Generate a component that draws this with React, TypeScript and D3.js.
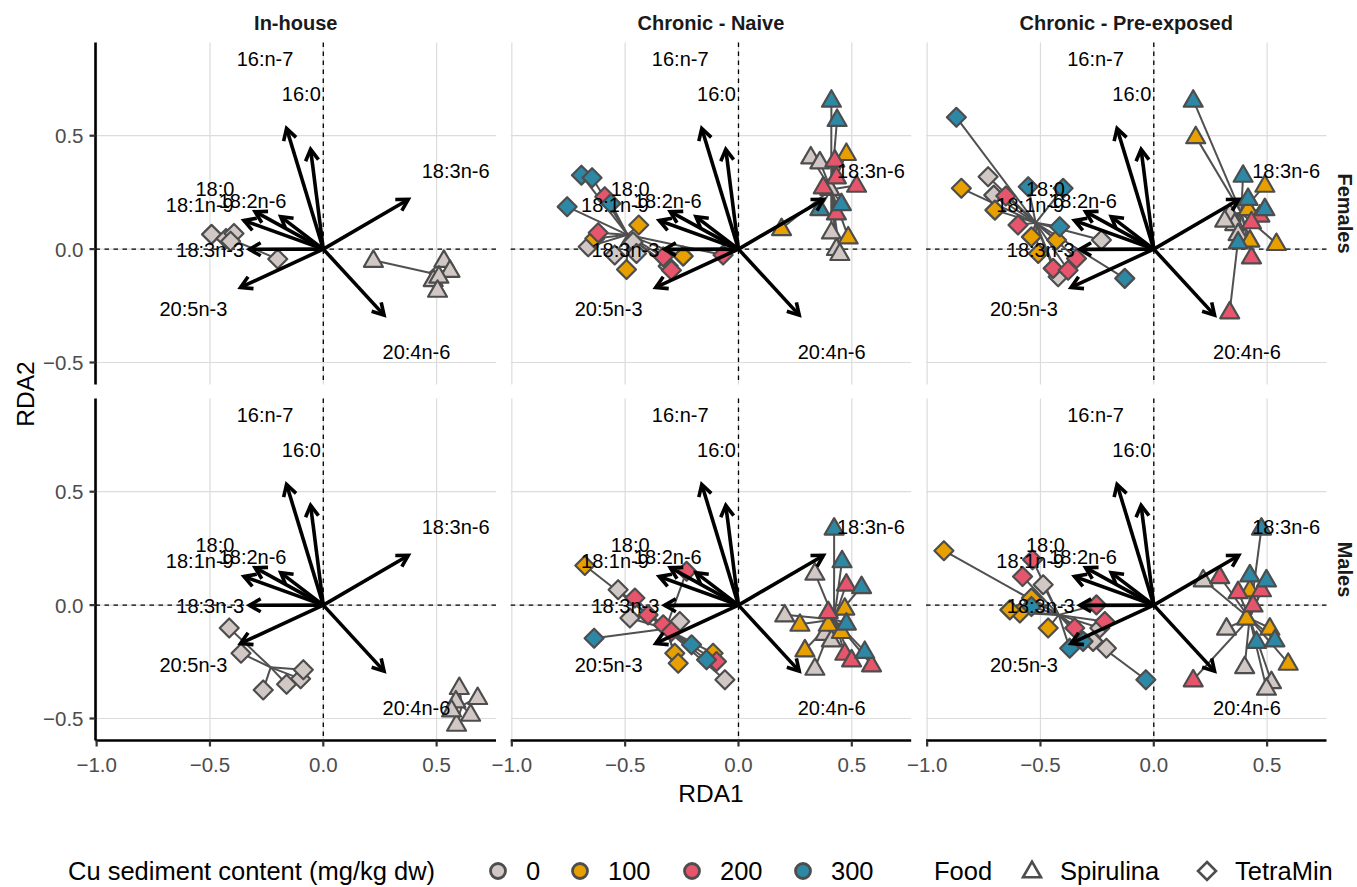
import React, { useEffect, useRef } from 'react';
import * as d3 from 'd3';

const facetCols = ['In-house', 'Chronic - Naive', 'Chronic - Pre-exposed'];
const facetRows = ['Females', 'Males'];
const cuLevels = ['0', '100', '200', '300'];
const cuColors = ['#D1C8C6', '#E8A000', '#E6556B', '#2C88A4'];
const foods = ['Spirulina', 'TetraMin'];

const xTicks = [-1.0, -0.5, 0.0, 0.5];
const yTicks = [-0.5, 0.0, 0.5];

const acids = ['16:n-7', '16:0', '18:3n-6', '20:4n-6', '20:5n-3', '18:3n-3', '18:1n-9', '18:0', '18:2n-6'];
const arrowX = [-0.162, -0.056, 0.375, 0.268, -0.365, -0.326, -0.350, -0.301, -0.188];
const arrowY = [0.532, 0.440, 0.219, -0.291, -0.169, -0.001, 0.126, 0.165, 0.143];
const labelX = [-0.257, -0.097, 0.584, 0.411, -0.573, -0.499, -0.545, -0.478, -0.312];
const labelY = [0.840, 0.686, 0.343, -0.454, -0.265, -0.005, 0.195, 0.265, 0.212];

// rows: [cu level index, food index (0 Spirulina, 1 TetraMin), RDA1, RDA2]
const femInhouse = [
  [0, 1, -0.493, 0.065], [0, 1, -0.429, 0.047], [0, 1, -0.394, 0.069], [0, 1, -0.409, 0.035], [0, 1, -0.201, -0.044],
  [0, 0, 0.221, -0.049], [0, 0, 0.532, -0.049], [0, 0, 0.559, -0.093], [0, 0, 0.485, -0.134], [0, 0, 0.510, -0.119], [0, 0, 0.504, -0.181],
];

const femNaive = [
  [0, 1, -0.663, 0.010], [0, 1, -0.546, -0.026], [0, 1, -0.465, 0.032], [0, 1, -0.310, -0.075], [0, 1, -0.450, -0.019],
  [1, 1, -0.440, 0.106], [1, 1, -0.634, 0.047], [1, 1, -0.494, -0.090], [1, 1, -0.244, -0.031],
  [2, 1, -0.590, 0.231], [2, 1, -0.619, 0.072], [2, 1, -0.332, -0.034], [2, 1, -0.296, -0.093], [2, 1, -0.068, -0.026],
  [3, 1, -0.693, 0.326], [3, 1, -0.646, 0.315], [3, 1, -0.756, 0.187], [3, 1, -0.563, 0.201],
  [0, 0, 0.319, 0.407], [0, 0, 0.359, 0.385], [0, 0, 0.403, 0.268], [0, 0, 0.410, 0.076], [0, 0, 0.432, 0.003], [0, 0, 0.447, -0.019],
  [1, 0, 0.476, 0.422], [1, 0, 0.190, 0.091], [1, 0, 0.484, 0.054],
  [2, 0, 0.425, 0.393], [2, 0, 0.432, 0.319], [2, 0, 0.521, 0.282], [2, 0, 0.374, 0.275], [2, 0, 0.432, 0.160],
  [3, 0, 0.410, 0.657], [3, 0, 0.435, 0.572], [3, 0, 0.359, 0.179], [3, 0, 0.454, 0.201],
];

const femPre = [
  [0, 1, -0.731, 0.319], [0, 1, -0.706, 0.238], [0, 1, -0.231, 0.040], [0, 1, -0.422, -0.122],
  [1, 1, -0.849, 0.268], [1, 1, -0.701, 0.172], [1, 1, -0.540, 0.054], [1, 1, -0.429, 0.040], [1, 1, -0.510, -0.019],
  [2, 1, -0.653, 0.234], [2, 1, -0.599, 0.106], [2, 1, -0.444, -0.085], [2, 1, -0.378, -0.093], [2, 1, -0.341, -0.041],
  [3, 1, -0.871, 0.581], [3, 1, -0.554, 0.275], [3, 1, -0.400, 0.268], [3, 1, -0.415, 0.099], [3, 1, -0.128, -0.129],
  [0, 0, 0.335, 0.157], [0, 0, 0.357, 0.113], [0, 0, 0.372, 0.069], [0, 0, 0.313, 0.128],
  [1, 0, 0.185, 0.496], [1, 0, 0.490, 0.282], [1, 0, 0.416, 0.179], [1, 0, 0.424, 0.040], [1, 0, 0.541, 0.025],
  [2, 0, 0.335, -0.276], [2, 0, 0.431, -0.034], [2, 0, 0.468, 0.150], [2, 0, 0.431, 0.121],
  [3, 0, 0.174, 0.657], [3, 0, 0.394, 0.326], [3, 0, 0.416, 0.224], [3, 0, 0.490, 0.179], [3, 0, 0.372, 0.032],
];

const maleInhouse = [
  [0, 1, -0.415, -0.101], [0, 1, -0.363, -0.212], [0, 1, -0.265, -0.374], [0, 1, -0.162, -0.349], [0, 1, -0.100, -0.325], [0, 1, -0.088, -0.285],
  [0, 0, 0.600, -0.363], [0, 0, 0.585, -0.422], [0, 0, 0.681, -0.407], [0, 0, 0.650, -0.481], [0, 0, 0.588, -0.525], [0, 0, 0.566, -0.462],
];

const maleNaive = [
  [0, 1, -0.531, 0.068], [0, 1, -0.479, -0.057], [0, 1, -0.259, -0.072], [0, 1, -0.060, -0.329],
  [1, 1, -0.678, 0.175], [1, 1, -0.281, -0.212], [1, 1, -0.266, -0.256], [1, 1, -0.112, -0.212],
  [2, 1, -0.457, 0.031], [2, 1, -0.399, -0.043], [2, 1, -0.332, -0.087], [2, 1, -0.229, 0.149], [2, 1, -0.296, -0.116], [2, 1, -0.097, -0.249],
  [3, 1, -0.637, -0.146], [3, 1, -0.207, -0.175], [3, 1, -0.141, -0.241],
  [0, 0, 0.337, 0.141], [0, 0, 0.204, -0.043], [0, 0, 0.381, -0.124], [0, 0, 0.337, -0.278], [0, 0, 0.410, -0.153],
  [1, 0, 0.469, -0.013], [1, 0, 0.271, -0.084], [1, 0, 0.396, -0.084], [1, 0, 0.454, -0.116], [1, 0, 0.293, -0.197],
  [2, 0, 0.476, 0.093], [2, 0, 0.396, -0.028], [2, 0, 0.469, -0.212], [2, 0, 0.499, -0.241], [2, 0, 0.587, -0.263],
  [3, 0, 0.422, 0.340], [3, 0, 0.457, 0.196], [3, 0, 0.543, 0.082], [3, 0, 0.476, -0.079], [3, 0, 0.557, -0.204],
];

const malePre = [
  [0, 1, -0.488, 0.090], [0, 1, -0.268, -0.160], [0, 1, -0.209, -0.190], [0, 1, -0.238, -0.101],
  [1, 1, -0.926, 0.240], [1, 1, -0.540, 0.031], [1, 1, -0.591, -0.035], [1, 1, -0.466, -0.101], [1, 1, -0.635, -0.021],
  [2, 1, -0.535, 0.200], [2, 1, -0.579, 0.126], [2, 1, -0.349, -0.101], [2, 1, -0.216, -0.072], [2, 1, -0.253, 0.001],
  [3, 1, -0.540, -0.006], [3, 1, -0.371, -0.190], [3, 1, -0.312, -0.160], [3, 1, -0.035, -0.329],
  [0, 0, 0.218, 0.112], [0, 0, 0.321, -0.101], [0, 0, 0.401, -0.271], [0, 0, 0.519, -0.337], [0, 0, 0.497, -0.366],
  [1, 0, 0.424, 0.068], [1, 0, 0.409, -0.057], [1, 0, 0.512, -0.101], [1, 0, 0.593, -0.256],
  [2, 0, 0.291, 0.126], [2, 0, 0.372, 0.060], [2, 0, 0.475, 0.068], [2, 0, 0.438, 0.001], [2, 0, 0.174, -0.329],
  [3, 0, 0.475, 0.340], [3, 0, 0.424, 0.134], [3, 0, 0.497, 0.112], [3, 0, 0.453, -0.160], [3, 0, 0.534, -0.153],
];

const panelData = [
  [femInhouse, femNaive, femPre],
  [maleInhouse, maleNaive, malePre],
];

const W = 1357;
const H = 887;
const FONT = '"Liberation Sans", Arial, Helvetica, sans-serif';
const panelLeft = [95.5, 510.7, 926];
const panelTop = [42.5, 398.5];
const panelW = 400.5;
const panelH = 342;

const triPath = (s: number) => {
  const h = s * 0.866;
  return `M0,${-h * 0.6}L${s / 2},${h * 0.4}L${-s / 2},${h * 0.4}Z`;
};
const diaPath = (r: number) => `M0,${-r}L${r},0L0,${r}L${-r},0Z`;

export default function App() {
  const ref = useRef<SVGSVGElement>(null);

  useEffect(() => {
    const svg = d3.select(ref.current);
    svg.selectAll('*').remove();

    const x = d3.scaleLinear().domain([-1.005, 0.762]).range([0, panelW]);
    const y = d3.scaleLinear().domain([-0.597, 0.911]).range([panelH, 0]);

    facetRows.forEach((rowName, r) => {
      facetCols.forEach((colName, c) => {
        const g = svg.append('g').attr('transform', `translate(${panelLeft[c]},${panelTop[r]})`);

        // grid
        g.selectAll('.gx').data(xTicks).enter().append('line')
          .attr('x1', (d) => x(d)).attr('x2', (d) => x(d))
          .attr('y1', 0).attr('y2', panelH)
          .attr('stroke', '#DCDCDC').attr('stroke-width', 1.2);
        g.selectAll('.gy').data(yTicks).enter().append('line')
          .attr('x1', 0).attr('x2', panelW)
          .attr('y1', (d) => y(d)).attr('y2', (d) => y(d))
          .attr('stroke', '#DCDCDC').attr('stroke-width', 1.2);

        // zero lines
        g.append('line').attr('x1', x(0)).attr('x2', x(0)).attr('y1', 0).attr('y2', panelH)
          .attr('stroke', '#000').attr('stroke-width', 1.3).attr('stroke-dasharray', '4.5,4.5');
        g.append('line').attr('x1', 0).attr('x2', panelW).attr('y1', y(0)).attr('y2', y(0))
          .attr('stroke', '#000').attr('stroke-width', 1.3).attr('stroke-dasharray', '4.5,4.5');

        const data = panelData[r][c];
        const centroids = d3.rollup(
          data,
          (v) => [d3.mean(v, (d) => d[2]) as number, d3.mean(v, (d) => d[3]) as number],
          (d) => d[1],
        );

        // spider segments
        g.selectAll('.seg').data(data).enter().append('line')
          .attr('x1', (d) => x(d[2])).attr('y1', (d) => y(d[3]))
          .attr('x2', (d) => x(centroids.get(d[1])![0]))
          .attr('y2', (d) => y(centroids.get(d[1])![1]))
          .attr('stroke', '#505050').attr('stroke-width', 2);

        // points
        g.selectAll('.pt').data(data).enter().append('path')
          .attr('d', (d) => (d[1] === 0 ? triPath(19) : diaPath(9.5)))
          .attr('transform', (d) => `translate(${x(d[2])},${y(d[3])})`)
          .attr('fill', (d) => cuColors[d[0]])
          .attr('stroke', '#4D4D4D').attr('stroke-width', 2.2).attr('stroke-linejoin', 'round');

        // arrows
        const x0 = x(0);
        const y0 = y(0);
        acids.forEach((name, i) => {
          const tx = x(arrowX[i]);
          const ty = y(arrowY[i]);
          const th = Math.atan2(ty - y0, tx - x0);
          const L = 13;
          const a = Math.PI / 6;
          g.append('line').attr('x1', x0).attr('y1', y0).attr('x2', tx).attr('y2', ty)
            .attr('stroke', '#000').attr('stroke-width', 3.6);
          g.append('path')
            .attr('d', `M${tx - L * Math.cos(th - a)},${ty - L * Math.sin(th - a)}L${tx},${ty}L${tx - L * Math.cos(th + a)},${ty - L * Math.sin(th + a)}`)
            .attr('fill', 'none').attr('stroke', '#000').attr('stroke-width', 3.6)
            .attr('stroke-linejoin', 'miter');
        });

        // labels
        acids.forEach((name, i) => {
          g.append('text').attr('x', x(labelX[i])).attr('y', y(labelY[i]))
            .attr('text-anchor', 'middle').attr('dominant-baseline', 'central')
            .attr('font-family', FONT).attr('font-size', 20).attr('fill', '#000')
            .text(name);
        });

        // column strips
        if (r === 0) {
          svg.append('text').attr('x', panelLeft[c] + panelW / 2).attr('y', 23)
            .attr('text-anchor', 'middle').attr('dominant-baseline', 'central')
            .attr('font-family', FONT).attr('font-size', 20).attr('font-weight', 'bold')
            .attr('fill', '#1A1A1A').text(colName);
        }
        // row strips
        if (c === 2) {
          svg.append('text')
            .attr('transform', `translate(1345,${panelTop[r] + panelH / 2}) rotate(90)`)
            .attr('text-anchor', 'middle').attr('dominant-baseline', 'central')
            .attr('font-family', FONT).attr('font-size', 20).attr('font-weight', 'bold')
            .attr('fill', '#1A1A1A').text(rowName);
        }

        // y axis
        if (c === 0) {
          g.append('line').attr('x1', 0).attr('x2', 0).attr('y1', 0).attr('y2', panelH)
            .attr('stroke', '#000').attr('stroke-width', 2.6);
          yTicks.forEach((t) => {
            g.append('line').attr('x1', -6).attr('x2', 0).attr('y1', y(t)).attr('y2', y(t))
              .attr('stroke', '#333').attr('stroke-width', 2.2);
            g.append('text').attr('x', -12).attr('y', y(t))
              .attr('text-anchor', 'end').attr('dominant-baseline', 'central')
              .attr('font-family', FONT).attr('font-size', 20.5).attr('fill', '#4D4D4D')
              .text(d3.format('.1f')(t));
          });
        }
        // x axis
        if (r === 1) {
          g.append('line').attr('x1', 0).attr('x2', panelW).attr('y1', panelH).attr('y2', panelH)
            .attr('stroke', '#000').attr('stroke-width', 2.6);
          xTicks.forEach((t) => {
            g.append('line').attr('x1', x(t)).attr('x2', x(t)).attr('y1', panelH).attr('y2', panelH + 6)
              .attr('stroke', '#333').attr('stroke-width', 2.2);
            g.append('text').attr('x', x(t)).attr('y', panelH + 24)
              .attr('text-anchor', 'middle').attr('dominant-baseline', 'central')
              .attr('font-family', FONT).attr('font-size', 20.5).attr('fill', '#4D4D4D')
              .text(d3.format('.1f')(t));
          });
        }
      });
    });

    // axis titles
    svg.append('text').attr('x', (panelLeft[0] + panelLeft[2] + panelW) / 2).attr('y', 793)
      .attr('text-anchor', 'middle').attr('dominant-baseline', 'central')
      .attr('font-family', FONT).attr('font-size', 24.5).attr('fill', '#000').text('RDA1');
    svg.append('text').attr('transform', 'translate(25,394) rotate(-90)')
      .attr('text-anchor', 'middle').attr('dominant-baseline', 'central')
      .attr('font-family', FONT).attr('font-size', 24.5).attr('fill', '#000').text('RDA2');

    // legend
    const ly = 871;
    const fs = 25.5;
    const leg = svg.append('g');
    const legText = (tx: number, s: string) => leg.append('text').attr('x', tx).attr('y', ly)
      .attr('dominant-baseline', 'central').attr('font-family', FONT).attr('font-size', fs)
      .attr('fill', '#000').text(s);
    legText(68, 'Cu sediment content (mg/kg dw)');
    const keyX = [498, 580, 692, 803];
    const keyLabelX = [526, 608, 720, 831];
    cuLevels.forEach((lab, i) => {
      leg.append('circle').attr('cx', keyX[i]).attr('cy', ly).attr('r', 7.5)
        .attr('fill', cuColors[i]).attr('stroke', '#4D4D4D').attr('stroke-width', 2.8);
      legText(keyLabelX[i], lab);
    });
    legText(934, 'Food');
    const foodKeyX = [1032, 1207];
    const foodLabelX = [1060, 1235];
    foods.forEach((lab, i) => {
      leg.append('path').attr('d', i === 0 ? triPath(18) : diaPath(9))
        .attr('transform', `translate(${foodKeyX[i]},${ly})`)
        .attr('fill', 'none').attr('stroke', '#4D4D4D').attr('stroke-width', 2.6);
      legText(foodLabelX[i], lab);
    });
  }, []);

  return (
    <svg
      ref={ref}
      width={W}
      height={H}
      style={{ position: 'absolute', left: 0, top: 0, background: '#fff' }}
    />
  );
}
